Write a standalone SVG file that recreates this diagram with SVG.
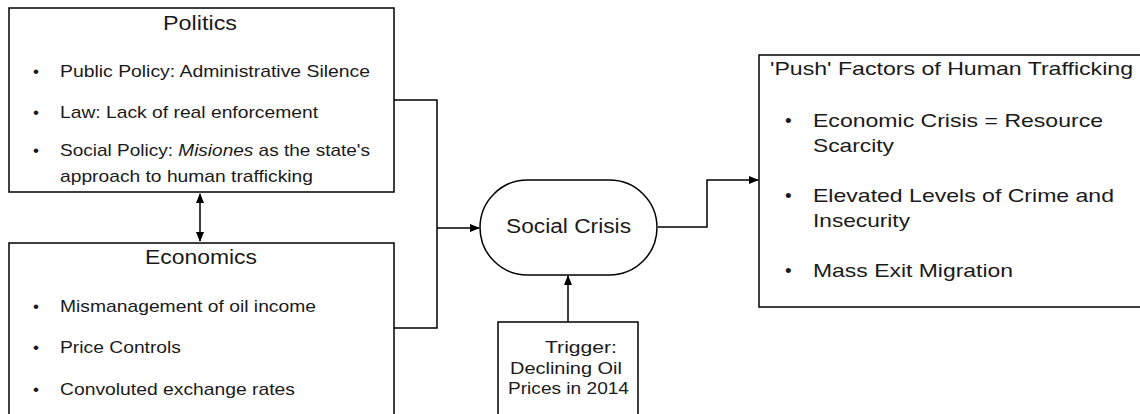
<svg xmlns="http://www.w3.org/2000/svg" width="1140" height="414" viewBox="0 0 1140 414">
<style>
.box{fill:#fff;stroke:#000;stroke-width:1.5}
.t{font-family:"Liberation Sans",Arial,sans-serif;fill:#1a1a1a}
.title{font-size:20px}
.item{font-size:17px}
.big{font-size:19px}
.trig{font-size:17px}
.conn{fill:none;stroke:#000;stroke-width:1.5}
</style>
<defs>
<marker id="ah" markerWidth="10" markerHeight="8" refX="9" refY="4" orient="auto-start-reverse" markerUnits="userSpaceOnUse">
<path d="M0,0 L10,4 L0,8 Z" fill="#000"/>
</marker>
</defs>
<rect width="1140" height="414" fill="#fff"/>
<g id="connectors">
<path class="conn" d="M200,194 V241" marker-start="url(#ah)" marker-end="url(#ah)"/>
<path class="conn" d="M394,100 H437 V328 H394"/>
<path class="conn" d="M437,228 H479" marker-end="url(#ah)"/>
<path class="conn" d="M658,227 H707 V180 H758" marker-end="url(#ah)"/>
<path class="conn" d="M568,322 V276" marker-end="url(#ah)"/>
</g>
<g id="politics">
<rect class="box" x="9" y="8" width="385" height="184"/>
<text class="t title" x="163" y="30" textLength="74" lengthAdjust="spacingAndGlyphs">Politics</text>
<g class="t item">
<text x="33" y="77">•</text><text x="60" y="77" textLength="310" lengthAdjust="spacingAndGlyphs">Public Policy: Administrative Silence</text>
<text x="33" y="118">•</text><text x="60" y="118" textLength="258" lengthAdjust="spacingAndGlyphs">Law: Lack of real enforcement</text>
<text x="33" y="156">•</text><text x="60" y="156" textLength="310" lengthAdjust="spacingAndGlyphs">Social Policy: <tspan font-style="italic">Misiones</tspan> as the state's</text>
<text x="60" y="182" textLength="253" lengthAdjust="spacingAndGlyphs">approach to human trafficking</text>
</g>
</g>
<g id="economics">
<rect class="box" x="9" y="243" width="385" height="180"/>
<text class="t title" x="145" y="264" textLength="112" lengthAdjust="spacingAndGlyphs">Economics</text>
<g class="t item">
<text x="33" y="312">•</text><text x="60" y="312" textLength="256" lengthAdjust="spacingAndGlyphs">Mismanagement of oil income</text>
<text x="33" y="353">•</text><text x="60" y="353" textLength="121" lengthAdjust="spacingAndGlyphs">Price Controls</text>
<text x="33" y="395">•</text><text x="60" y="395" textLength="235" lengthAdjust="spacingAndGlyphs">Convoluted exchange rates</text>
</g>
</g>
<g id="social-crisis">
<rect class="box" x="480" y="180" width="177" height="95" rx="47.5" ry="47.5"/>
<text class="t title" x="506" y="233" textLength="125" lengthAdjust="spacingAndGlyphs">Social Crisis</text>
</g>
<g id="trigger">
<rect class="box" x="498" y="322" width="140" height="100"/>
<text class="t trig" x="545" y="353" textLength="72" lengthAdjust="spacingAndGlyphs">Trigger:</text>
<text class="t trig" x="510" y="374" textLength="112" lengthAdjust="spacingAndGlyphs">Declining Oil</text>
<text class="t trig" x="508" y="394" textLength="121" lengthAdjust="spacingAndGlyphs">Prices in 2014</text>
</g>
<g id="push-factors">
<rect class="box" x="759" y="55" width="390" height="252"/>
<text class="t big" x="770" y="75" textLength="363" lengthAdjust="spacingAndGlyphs">'Push' Factors of Human Trafficking</text>
<g class="t big">
<text x="785" y="127">•</text><text x="813" y="127" textLength="290" lengthAdjust="spacingAndGlyphs">Economic Crisis = Resource</text>
<text x="813" y="152" textLength="81" lengthAdjust="spacingAndGlyphs">Scarcity</text>
<text x="785" y="202">•</text><text x="813" y="202" textLength="301" lengthAdjust="spacingAndGlyphs">Elevated Levels of Crime and</text>
<text x="813" y="227" textLength="97" lengthAdjust="spacingAndGlyphs">Insecurity</text>
<text x="785" y="277">•</text><text x="813" y="277" textLength="200" lengthAdjust="spacingAndGlyphs">Mass Exit Migration</text>
</g>
</g>
</svg>
